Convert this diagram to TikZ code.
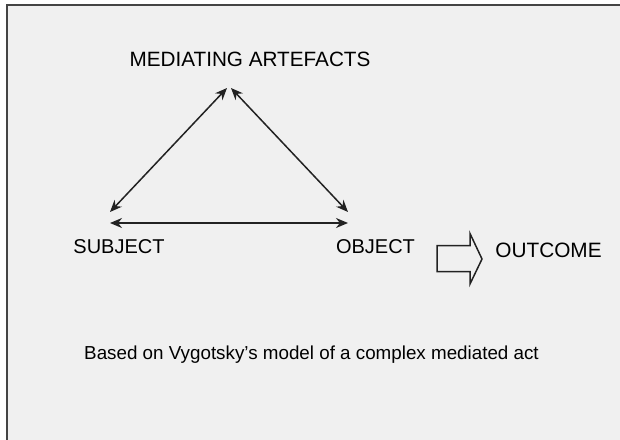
\documentclass[tikz,border=0pt]{standalone}
\usepackage{fontspec}
\setmainfont{Liberation Sans}
\usetikzlibrary{arrows.meta}
\definecolor{bgray}{HTML}{F0F0F0}
\definecolor{ink}{HTML}{222222}
\definecolor{framec}{HTML}{444444}
\begin{document}
\begin{tikzpicture}[x=1pt,y=-1pt,
  lbl/.style={font=\fontsize{20}{24}\selectfont, text=black, inner sep=0pt, anchor=center},
  conn/.style={draw=ink, line width=1.5pt, {Stealth[length=12pt,width=10pt]}-{Stealth[length=12pt,width=10pt]}}]
\useasboundingbox (0,0) rectangle (620,439);
\fill[white] (0,0) rectangle (620,439);
\fill[bgray] (7,5) rectangle (630,450);
\draw[framec, line width=2pt] (7,450) -- (7,5) -- (630,5);
\coordinate (apexl) at (227,88);
\coordinate (apexr) at (231,88);
\coordinate (left) at (110,212);
\coordinate (right) at (348,212);
\coordinate (bl) at (110,223);
\coordinate (br) at (348,223);
\node[lbl, font=\fontsize{20.7}{24}\selectfont] (med) at (250,59) {MEDIATING ARTEFACTS};
\node[lbl] (subj) at (119,247) {SUBJECT};
\node[lbl] (obj) at (375.5,247) {OBJECT};
\node[lbl, font=\fontsize{20.8}{24}\selectfont] (out) at (548.5,250) {OUTCOME};
\node[lbl, font=\fontsize{18.8}{22}\selectfont] (note) at (311.5,355) {Based on Vygotsky’s model of a complex mediated act};
\draw[conn] (apexl) -- (left);
\draw[conn] (apexr) -- (right);
\draw[conn] (bl) -- (br);
\draw[draw=ink, line width=1.5pt, line join=miter] (437,245.5) -- (470,245.5) -- (470,233.5) -- (482,259) -- (470,284) -- (470,271.5) -- (437,271.5) -- cycle;
\end{tikzpicture}
\end{document}
